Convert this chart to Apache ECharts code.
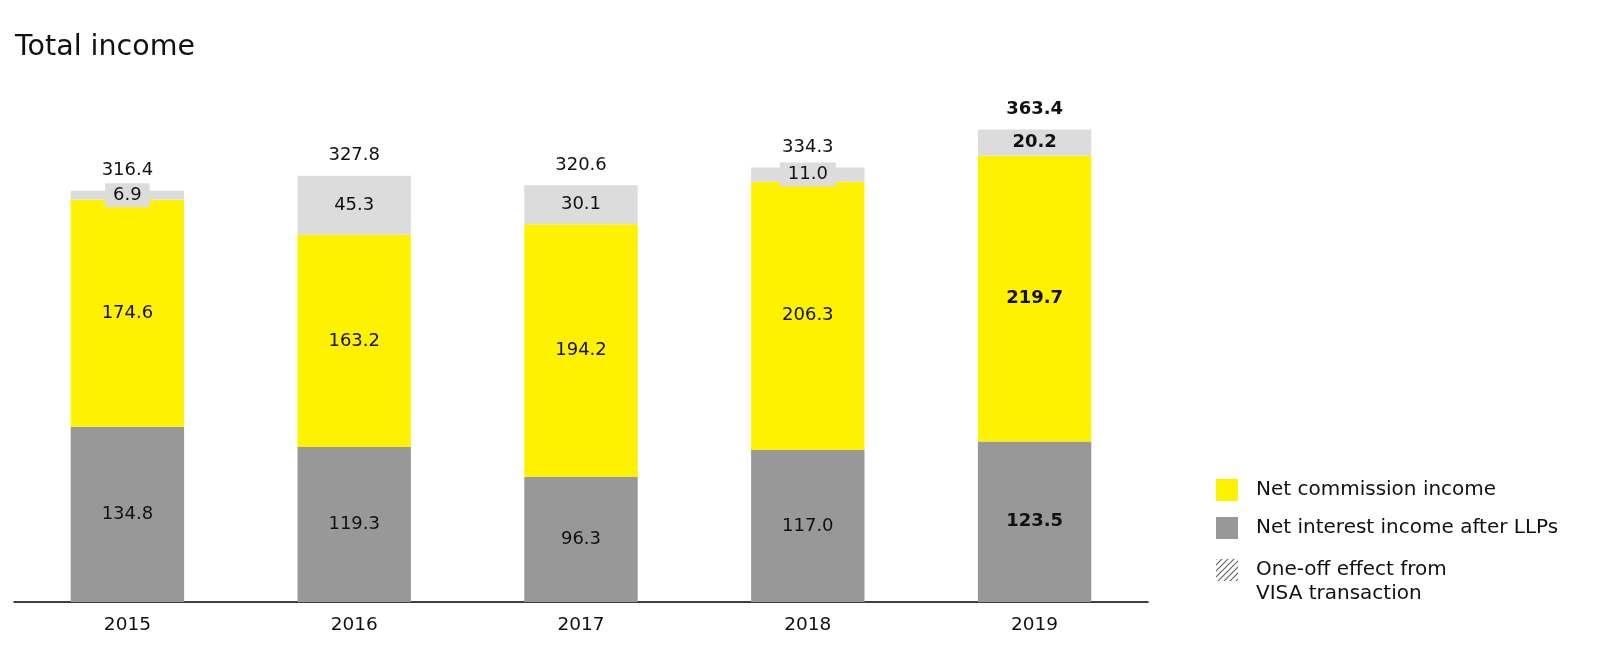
<!DOCTYPE html>
<html>
<head>
<meta charset="utf-8">
<script src="https://cdn.jsdelivr.net/npm/echarts@6/dist/echarts.min.js"></script>
<style>
html,body{margin:0;padding:0;background:#fff;}
#chart{width:1600px;height:670px;}
</style>
</head>
<body>
<div id="chart"></div>
<script>
const years = ['2015','2016','2017','2018','2019'];
const netInterest = [134.8, 119.3, 96.3, 117.0, 123.5];
const netCommission = [174.6, 163.2, 194.2, 206.3, 219.7];
const otherIncome = [6.9, 45.3, 30.1, 11.0, 20.2];
const totals = [316.4, 327.8, 320.6, 334.3, 363.4];

const FONT = '"DejaVu Sans", sans-serif';
const TXT = '#111';

function hatch() {
  const c = document.createElement('canvas');
  c.width = 6; c.height = 6;
  const g = c.getContext('2d');
  g.fillStyle = '#fff'; g.fillRect(0,0,6,6);
  g.strokeStyle = '#666'; g.lineWidth = 1.2;
  g.beginPath();
  g.moveTo(-1,7); g.lineTo(7,-1);
  g.moveTo(-4,4); g.lineTo(4,-4);
  g.moveTo(2,10); g.lineTo(10,2);
  g.stroke();
  return {image: c, repeat: 'repeat'};
}

function boldLast(arr) {
  return arr.map((v, i) => i === arr.length - 1 ? {value: v, label: {fontWeight: 'bold'}} : v);
}
const fmt1 = p => Number(p.value).toFixed(1);

const chart = echarts.init(document.getElementById('chart'));
chart.setOption({
  animation: false,
  title: {
    text: 'Total income', left: 15, top: 33, padding: 0,
    textStyle: {fontFamily: FONT, fontSize: 28.5, fontWeight: 'normal', color: TXT}
  },
  legend: [{
    orient: 'vertical', left: 1216, top: 479, padding: 0, itemWidth: 22, itemHeight: 22, itemGap: 16,
    icon: 'rect',
    data: ['Net commission income', 'Net interest income after LLPs'],
    textStyle: {fontFamily: FONT, fontSize: 20, color: TXT, padding: [0,0,0,13]}
  }, {
    orient: 'vertical', left: 1216, top: 534, padding: 0, itemWidth: 22, itemHeight: 22,
    icon: 'rect',
    data: ['One-off effect from\nVISA transaction'],
    formatter: n => '\n' + n,
    textStyle: {fontFamily: FONT, fontSize: 20, color: TXT, lineHeight: 24, padding: [0,0,0,13]}
  }],
  grid: {left: 14, right: 452, top: 82, bottom: 68},
  xAxis: {
    type: 'category', data: years,
    axisTick: {show: false},
    axisLine: {lineStyle: {color: '#000', width: 1.5}},
    axisLabel: {fontFamily: FONT, fontSize: 18.5, color: TXT, margin: 14}
  },
  yAxis: {type: 'value', min: 0, max: 400, show: false, splitLine: {show: false}},
  series: [{
    name: 'Net interest income after LLPs', type: 'bar', stack: 't', barWidth: '50%',
    itemStyle: {color: '#989898'},
    label: {show: true, position: 'inside', formatter: fmt1, fontFamily: FONT, fontSize: 18, color: TXT},
    data: boldLast(netInterest)
  }, {
    name: 'Net commission income', type: 'bar', stack: 't',
    itemStyle: {color: '#fff200'},
    label: {show: true, position: 'inside', formatter: fmt1, fontFamily: FONT, fontSize: 18, color: TXT},
    data: boldLast(netCommission)
  }, {
    name: 'Other', type: 'bar', stack: 't',
    itemStyle: {color: '#dcdcdc'},
    label: {show: true, position: 'inside', formatter: fmt1, fontFamily: FONT, fontSize: 18, color: TXT,
            backgroundColor: '#dcdcdc', padding: [3, 8]},
    data: boldLast(otherIncome)
  }, {
    name: 'One-off effect from\nVISA transaction', type: 'bar', stack: 't',
    itemStyle: {color: hatch()},
    data: []
  }, {
    name: 'Total', type: 'scatter', symbolSize: 0.1, itemStyle: {color: '#fff', opacity: 1},
    label: {show: true, position: 'top', distance: 11, formatter: fmt1, fontFamily: FONT, fontSize: 18, color: TXT},
    data: boldLast(totals)
  }]
});
</script>
</body>
</html>
